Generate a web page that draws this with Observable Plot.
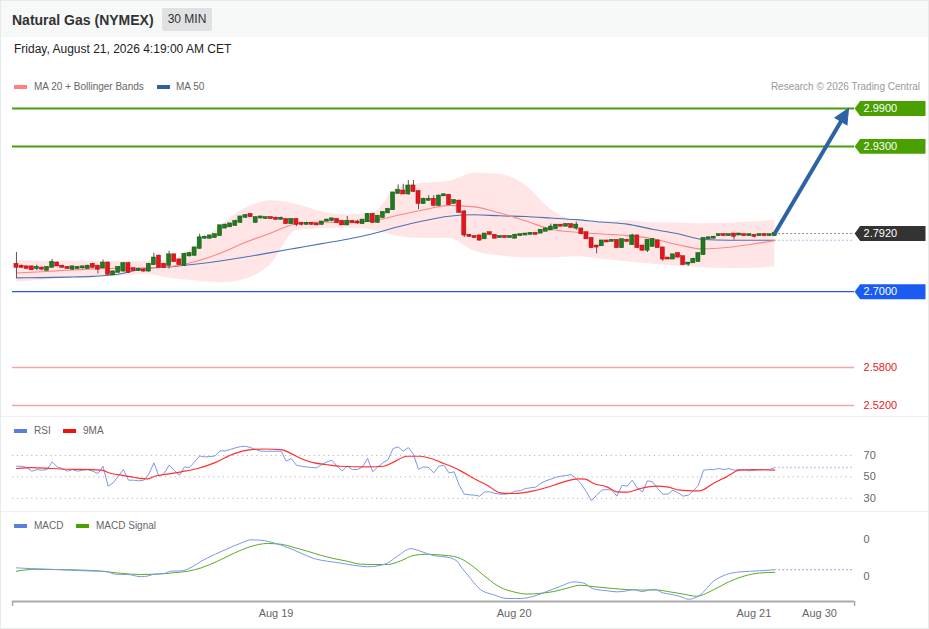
<!DOCTYPE html>
<html><head><meta charset="utf-8">
<script src="https://cdn.jsdelivr.net/npm/d3@7"></script>
<script src="https://cdn.jsdelivr.net/npm/@observablehq/plot@0.6"></script>
<style>
body{margin:0;background:#fff;font-family:"Liberation Sans",Arial,Helvetica,sans-serif;}
#wrap{position:relative;width:929px;height:629px;overflow:hidden;background:#fff;box-sizing:border-box;border:1px solid #e8eaea;}
.abs{position:absolute;white-space:nowrap;}
.leg{font-size:10px;line-height:12px;color:#666;}
.sw{height:4px;width:13px;}
.sep{left:0;width:929px;height:1px;background:#eef0f0;}
</style></head><body>
<div id="wrap">
  <div class="abs" style="left:0;top:0;width:929px;height:36px;background:#f7f8f8"></div>
  <div class="abs" style="left:11px;top:10px;font-size:14px;line-height:18px;font-weight:bold;color:#333">Natural Gas (NYMEX)</div>
  <div class="abs" style="left:161px;top:7px;width:50px;height:23px;line-height:23px;text-align:center;font-size:12px;color:#333;background:#dfe1e3;border-radius:2px">30 MIN</div>
  <div class="abs" style="left:13px;top:41px;font-size:12px;line-height:14px;color:#222">Friday, August 21, 2026 4:19:00 AM CET</div>

  <div class="abs sw" style="left:13px;top:84px;background:#ff8080"></div>
  <div class="abs leg" style="left:33px;top:80px">MA 20 + Bollinger Bands</div>
  <div class="abs sw" style="left:156px;top:84px;background:#2e5f9e"></div>
  <div class="abs leg" style="left:175px;top:80px">MA 50</div>
  <div class="abs leg" style="right:8px;top:80px;color:#9a9a9a">Research © 2026 Trading Central</div>

  <div id="main" class="abs" style="left:0;top:95px"></div>
  <div class="abs sep" style="top:415px"></div>
  <div id="rsi" class="abs" style="left:0;top:415px"></div>
  <div class="abs sep" style="top:510px"></div>
  <div id="macd" class="abs" style="left:0;top:510px"></div>
  <div id="xaxis" class="abs" style="left:0;top:595px"></div>

  <div class="abs sw" style="left:13px;top:428px;background:#5b7fe0"></div>
  <div class="abs leg" style="left:33px;top:424px">RSI</div>
  <div class="abs sw" style="left:62px;top:428px;background:#ee1111"></div>
  <div class="abs leg" style="left:82px;top:424px">9MA</div>

  <div class="abs sw" style="left:13px;top:523px;background:#5b7fe0"></div>
  <div class="abs leg" style="left:33px;top:519px">MACD</div>
  <div class="abs sw" style="left:75px;top:523px;background:#4aa000"></div>
  <div class="abs leg" style="left:95px;top:519px">MACD Signal</div>
</div>
<script>
// ---------- DATA ----------
const open = [2.743,2.740,2.739,2.739,2.737,2.737,2.734,2.739,2.745,2.740,
2.738,2.736,2.737,2.738,2.737,2.743,2.740,2.738,2.745,2.727,
2.731,2.733,2.744,2.736,2.734,2.734,2.733,2.743,2.756,2.743,
2.742,2.758,2.750,2.742,2.757,2.758,2.769,2.785,2.785,2.786,
2.789,2.801,2.803,2.805,2.810,2.818,2.822,2.810,2.817,2.816,
2.817,2.816,2.815,2.814,2.808,2.814,2.808,2.807,2.808,2.807,
2.807,2.812,2.813,2.814,2.811,2.806,2.811,2.810,2.808,2.811,
2.822,2.810,2.818,2.825,2.830,2.856,2.859,2.855,2.867,2.858,
2.840,2.845,2.846,2.837,2.852,2.852,2.840,2.843,2.826,2.789,
2.787,2.788,2.784,2.793,2.789,2.786,2.787,2.786,2.785,2.789,
2.790,2.791,2.792,2.793,2.796,2.798,2.800,2.805,2.804,2.806,
2.801,2.799,2.793,2.784,2.772,2.773,2.780,2.780,2.781,2.770,
2.781,2.775,2.788,2.772,2.766,2.772,2.780,2.769,2.753,2.752,
2.760,2.755,2.744,2.746,2.748,2.759,2.784,2.785,2.789,2.790,
2.789,2.791,2.790,2.790,2.789,2.789,2.789,2.790,2.789,2.789];
const close = [2.739,2.739,2.737,2.735,2.738,2.736,2.738,2.746,2.741,2.739,
2.737,2.739,2.738,2.739,2.740,2.739,2.736,2.745,2.728,2.731,
2.738,2.744,2.731,2.734,2.735,2.733,2.743,2.753,2.739,2.739,
2.758,2.748,2.743,2.759,2.760,2.769,2.785,2.786,2.788,2.790,
2.804,2.805,2.807,2.811,2.818,2.820,2.819,2.817,2.818,2.817,
2.816,2.815,2.816,2.808,2.814,2.807,2.807,2.808,2.807,2.806,
2.810,2.813,2.815,2.810,2.806,2.811,2.810,2.809,2.813,2.822,
2.810,2.819,2.825,2.830,2.856,2.860,2.855,2.867,2.859,2.840,
2.846,2.846,2.837,2.851,2.853,2.838,2.844,2.826,2.790,2.788,
2.786,2.782,2.791,2.791,2.785,2.787,2.786,2.787,2.789,2.790,
2.791,2.792,2.791,2.797,2.799,2.802,2.805,2.804,2.806,2.802,
2.805,2.792,2.784,2.770,2.771,2.780,2.779,2.781,2.770,2.782,
2.780,2.788,2.770,2.766,2.781,2.782,2.770,2.752,2.752,2.758,
2.755,2.743,2.745,2.751,2.760,2.784,2.785,2.786,2.790,2.789,
2.790,2.788,2.791,2.789,2.790,2.788,2.790,2.789,2.790,2.792];
const high = [2.762,2.742,2.740,2.740,2.742,2.739,2.740,2.751,2.747,2.742,
2.740,2.740,2.740,2.740,2.742,2.745,2.742,2.750,2.747,2.733,
2.740,2.746,2.746,2.737,2.737,2.736,2.745,2.761,2.758,2.745,
2.764,2.759,2.751,2.761,2.762,2.770,2.791,2.788,2.789,2.791,
2.805,2.807,2.808,2.813,2.819,2.822,2.823,2.818,2.819,2.818,
2.818,2.818,2.818,2.815,2.815,2.815,2.810,2.810,2.809,2.808,
2.811,2.815,2.816,2.815,2.813,2.819,2.812,2.813,2.814,2.824,
2.824,2.821,2.827,2.832,2.857,2.869,2.870,2.876,2.876,2.860,
2.848,2.852,2.852,2.853,2.855,2.854,2.845,2.845,2.828,2.790,
2.788,2.789,2.792,2.794,2.790,2.788,2.788,2.788,2.791,2.791,
2.792,2.793,2.793,2.798,2.801,2.807,2.806,2.806,2.808,2.807,
2.810,2.800,2.794,2.785,2.773,2.781,2.781,2.782,2.782,2.783,
2.783,2.791,2.789,2.773,2.782,2.784,2.782,2.770,2.754,2.759,
2.761,2.756,2.746,2.753,2.761,2.785,2.786,2.787,2.791,2.791,
2.791,2.792,2.792,2.791,2.791,2.790,2.791,2.791,2.791,2.793];
const low = [2.721,2.737,2.736,2.734,2.733,2.733,2.733,2.737,2.740,2.737,
2.736,2.734,2.736,2.736,2.736,2.737,2.728,2.737,2.726,2.726,
2.730,2.731,2.729,2.733,2.732,2.731,2.731,2.742,2.737,2.737,
2.736,2.747,2.742,2.740,2.755,2.756,2.767,2.783,2.783,2.785,
2.788,2.800,2.802,2.804,2.808,2.816,2.818,2.808,2.815,2.815,
2.815,2.813,2.813,2.807,2.807,2.803,2.804,2.805,2.805,2.805,
2.805,2.811,2.811,2.808,2.805,2.805,2.808,2.807,2.807,2.810,
2.808,2.808,2.816,2.824,2.829,2.854,2.854,2.853,2.857,2.830,
2.838,2.843,2.835,2.835,2.851,2.836,2.839,2.824,2.786,2.786,
2.785,2.780,2.783,2.790,2.784,2.785,2.785,2.785,2.784,2.788,
2.789,2.790,2.790,2.792,2.795,2.797,2.799,2.803,2.803,2.801,
2.797,2.790,2.783,2.769,2.760,2.772,2.778,2.779,2.769,2.769,
2.779,2.773,2.768,2.764,2.762,2.771,2.769,2.748,2.751,2.751,
2.754,2.742,2.740,2.745,2.747,2.758,2.783,2.784,2.788,2.788,
2.788,2.782,2.789,2.788,2.788,2.785,2.788,2.788,2.788,2.788];

// Bollinger / moving averages, read at every 5th candle
const bandIdx = [0,5,10,15,20,25,30,35,40,45,50,55,60,65,70,75,80,85,90,95,100,105,110,115,120,125,130,135,140,145,149];
const bbUpper = [2.7493,2.7482,2.7482,2.7482,2.7482,2.7482,2.7498,2.7703,2.8035,2.8319,2.8439,2.8384,2.8264,2.8217,2.8240,2.8652,2.8715,2.8747,2.8873,2.8857,2.8684,2.8304,2.8114,2.8098,2.8122,2.8090,2.8087,2.8075,2.8082,2.8106,2.8125];
const bbLower = [2.7150,2.7182,2.7214,2.7237,2.7245,2.7277,2.7214,2.7174,2.7142,2.7198,2.7435,2.7964,2.7996,2.8008,2.7972,2.7877,2.7841,2.7846,2.7640,2.7569,2.7534,2.7534,2.7553,2.7514,2.7474,2.7435,2.7403,2.7379,2.7367,2.7372,2.7395];
const ma20 = [2.7297,2.7316,2.7340,2.7361,2.7372,2.7377,2.7395,2.7474,2.7608,2.7782,2.7929,2.8075,2.8103,2.8090,2.8122,2.8209,2.8296,2.8367,2.8343,2.8245,2.8122,2.7988,2.7940,2.7913,2.7888,2.7838,2.7743,2.7676,2.7703,2.7758,2.7806];
const ma50 = [2.7219,2.7222,2.7230,2.7243,2.7277,2.7364,2.7392,2.7435,2.7487,2.7549,2.7619,2.7690,2.7761,2.7830,2.7917,2.8027,2.8122,2.8194,2.8217,2.8201,2.8189,2.8166,2.8141,2.8102,2.8070,2.7988,2.7917,2.7825,2.7814,2.7814,2.7814];

// key levels
const levelValues = [2.99, 2.93, 2.792, 2.70, 2.58, 2.52];
const levelRoles  = ["target","target","last","pivot","support","support"];
const targetValue = 2.99;

// RSI (one per candle) and its 9MA (read at points)
const rsi = [59.9,59.9,58.7,55.3,56.8,56.2,56.8,64.0,59.3,57.8,
55.3,56.8,55.3,56.2,56.8,55.3,53.1,59.9,41.3,44.4,
50.6,56.8,46.9,46.9,46.3,46.9,52.5,63.0,50.6,53.1,
60.9,56.2,51.6,59.3,58.7,64.0,69.5,68.6,68.9,69.5,
74.2,74.2,75.5,77.0,78.2,78.5,77.3,75.5,74.0,73.9,
73.9,73.9,73.9,64.7,67.1,60.9,59.9,59.3,58.7,58.4,
61.5,64.0,65.5,59.9,55.6,59.9,56.8,56.8,59.3,67.1,
54.7,59.3,63.0,65.9,76.4,77.9,73.9,77.3,71.1,57.1,
59.3,58.7,53.7,59.9,60.9,53.7,54.7,42.2,33.9,33.3,
32.9,32.0,36.0,36.0,34.5,33.9,33.9,34.5,36.7,37.0,
39.1,39.8,40.4,43.8,46.3,47.8,49.7,50.6,51.2,52.2,
48.4,43.2,36.0,27.7,32.9,37.6,38.2,37.6,32.0,42.2,
41.3,46.9,39.5,36.0,46.3,45.3,39.1,33.9,33.9,37.6,
35.1,32.0,32.9,37.0,42.2,56.2,56.8,56.8,57.8,56.8,
57.8,56.2,56.8,56.8,55.6,56.2,56.8,56.8,56.8,58.7];
const rsiMAIdx = [0,2.9,6.9,10.1,14.7,16.7,18.6,20.6,23.2,25.8,27.1,29.7,32.4,35.6,38.9,42.8,46.1,48.7,52,54,55.9,58.5,60.8,63.7,69,72.2,74.2,76.8,79.4,81.4,84,87.3,89.9,92.5,95.1,97.7,101.6,105.6,108.2,110.4,111.8,113.4,116,118,120,122.6,125.8,127.8,130.4,133,134.3,136.9,139.5,142.1,144.7,149];
const rsiMA = [57.8,58.7,57.8,57.1,56.8,56.2,53.1,51.6,49.4,48.1,50.6,52.5,54.7,57.8,63.0,71.7,75.4,76.0,75.4,71.7,67.1,63.0,61.5,59.9,59.3,59.9,64.0,69.2,69.2,67.1,62.4,55.6,48.4,42.2,35.1,34.5,37.0,42.2,46.3,48.1,47.8,43.8,40.7,36.0,35.7,39.1,41.3,40.7,37.6,37.0,37.0,43.8,50.0,56.2,56.8,56.2];
const rsiTicks = [30, 50, 70];

// MACD and signal (read at points)
const macdIdx = [0,2.9,6.9,10.1,13.4,16.7,18,19.3,21.9,24.5,25.8,27.1,29.1,30.4,32.4,34.3,36.3,38.9,41.5,44.1,46.1,48,50.7,53.3,55.9,58.5,61.1,63.7,66.3,69,71.6,72.9,74.8,77.5,79.4,82,84.6,86.6,87.3,88.6,91.2,93.8,96.4,99,101.6,104.2,106.9,109.5,111.4,113.4,116,118,120,121.3,122.9,125.2,127.1,129.1,131,132,133,134.3,136.9,139.5,142.1,146,149];
const macd = [0.0023,0.0021,0.0019,0.0017,0.0015,0.0014,0.0012,0.0006,0.0005,-0.0001,0.0001,0.0006,0.0008,0.0014,0.0015,0.0024,0.0041,0.0059,0.0075,0.0090,0.0099,0.0098,0.0090,0.0078,0.0063,0.0048,0.0041,0.0036,0.0030,0.0026,0.0030,0.0036,0.0054,0.0075,0.0068,0.0056,0.0052,0.0041,0.0027,0.0005,-0.0036,-0.0050,-0.0060,-0.0060,-0.0054,-0.0041,-0.0027,-0.0015,-0.0018,-0.0034,-0.0039,-0.0042,-0.0039,-0.0036,-0.0041,-0.0035,-0.0045,-0.0050,-0.0057,-0.0062,-0.0060,-0.0051,-0.0014,0.0005,0.0012,0.0015,0.0018];
const signalIdx = [0,3.6,10.1,16.7,19.9,24.5,27.8,31,33.7,36.3,39.5,42.8,46.1,49.3,52,54.6,57.2,59.8,62.4,65,67.6,70.3,72.9,75.5,78.1,80.7,84,85.9,87.3,89.2,92.5,95.1,97.7,100.3,102.9,105.6,108.2,110.8,113.4,117.3,120,122.6,125.8,128.4,131,133.7,136.3,139.5,142.8,146,149];
const signal = [0.0014,0.0019,0.0018,0.0014,0.0009,0.0005,0.0006,0.0010,0.0014,0.0023,0.0041,0.0063,0.0081,0.0089,0.0087,0.0078,0.0068,0.0057,0.0048,0.0041,0.0033,0.0032,0.0032,0.0042,0.0057,0.0060,0.0057,0.0054,0.0048,0.0032,-0.0005,-0.0030,-0.0042,-0.0048,-0.0046,-0.0041,-0.0032,-0.0024,-0.0028,-0.0033,-0.0036,-0.0037,-0.0037,-0.0042,-0.0048,-0.0054,-0.0041,-0.0018,0.0,0.0009,0.0011];
const macdTicks = [0, 0.01];

// time axis (candle index of each label)
const tickPos = [51, 97.8, 144.9, 157.8];
const tickLabels = ["Aug 19", "Aug 20", "Aug 21", "Aug 30"];
const arrowEndIdx = 163.5;

// ---------- BUILD ----------
const N = open.length;
const lastIdx = N - 1;
const xDomain = [-0.78, 164.7];
const xMax = xDomain[1];
const W = 929, ML = 11, MR = 74;
const MAIN_H = 320, MAIN_MT = 12, MAIN_MB = 10.4;
const priceDomain = [2.52, 2.99];
const candles = d3.range(N).map(i => ({i, o: open[i], h: high[i], l: low[i], c: close[i]}));
const bands = bandIdx.map((i, k) => ({i, hi: bbUpper[k], lo: bbLower[k], ma20: ma20[k], ma50: ma50[k]}));
const levels = levelValues.map((v, k) => ({v, role: levelRoles[k]}));
const roleStyle = {
  target:  {line: "#4b9e0a", w: 2,   tag: "#4aa000", text: "#ffffff"},
  last:    {line: null,      w: 0,   tag: "#333333", text: "#ffffff"},
  pivot:   {line: "#1f5fe6", w: 1.2, tag: "#1a5cf2", text: "#ffffff"},
  support: {line: "#f6a3a3", w: 1.5, tag: null,      text: "#e8191e"}
};
const tagSymbol = {draw(ctx) {
  ctx.moveTo(-35.5, 0); ctx.lineTo(-30, -7.5); ctx.lineTo(35.5, -7.5);
  ctx.lineTo(35.5, 7.5); ctx.lineTo(-30, 7.5); ctx.closePath();
}};
// arrowhead whose tip sits at the anchor point, pointing up (rotated below)
const headSymbol = {draw(ctx) {
  ctx.moveTo(0, 0); ctx.lineTo(-7, 15); ctx.lineTo(7, 15); ctx.closePath();
}};
const font = "'Liberation Sans', Arial, Helvetica, sans-serif";
const base = {width: W, marginLeft: ML, marginRight: MR};
const lastClose = close[lastIdx];

// direction of the forecast arrow in screen space (from the scales' pixel ratios)
const kx = (W - ML - MR) / (xDomain[1] - xDomain[0]);
const ky = (MAIN_H - MAIN_MT - MAIN_MB) / (priceDomain[1] - priceDomain[0]);
const adx = (arrowEndIdx - lastIdx) * kx, ady = (targetValue - lastClose) * ky;
const arrowAngle = Math.atan2(adx, ady) * 180 / Math.PI;
const shaftT = 1 - 11 / Math.hypot(adx, ady);
const arrowShaft = [{x1: lastIdx, y1: lastClose,
  x2: lastIdx + (arrowEndIdx - lastIdx) * shaftT, y2: lastClose + (targetValue - lastClose) * shaftT}];

const main = Plot.plot({
  ...base, height: MAIN_H, marginTop: MAIN_MT, marginBottom: MAIN_MB,
  x: {domain: xDomain, axis: null},
  y: {domain: priceDomain, axis: null},
  color: {type: "identity"},
  style: {background: "transparent", fontFamily: font, fontSize: "11px", overflow: "visible"},
  marks: [
    Plot.areaY(bands, {x: "i", y1: "lo", y2: "hi", fill: "#ff0000", fillOpacity: 0.1, curve: "monotone-x"}),
    Plot.ruleY(levels.filter(d => roleStyle[d.role].line), {y: "v", stroke: d => roleStyle[d.role].line, strokeWidth: d => roleStyle[d.role].w}),
    Plot.line(bands, {x: "i", y: "ma50", stroke: "#4a72b5", strokeWidth: 1.1, curve: "monotone-x"}),
    Plot.line(bands, {x: "i", y: "ma20", stroke: "#ff8585", strokeWidth: 1.1, curve: "monotone-x"}),
    Plot.ruleY([ma50[ma50.length - 1]], {x1: () => lastIdx, x2: () => xMax, stroke: "#a9bbe4", strokeWidth: 1.2, strokeDasharray: "2,2"}),
    Plot.ruleY([lastClose], {x1: () => lastIdx, x2: () => xMax, stroke: "#888", strokeWidth: 1, strokeDasharray: "2,2"}),
    Plot.ruleX(candles, {x: "i", y1: "l", y2: "h", stroke: "#555", strokeWidth: 1}),
    Plot.rect(candles, {x1: d => d.i - 0.4, x2: d => d.i + 0.4, y1: "o", y2: "c", insetTop: -0.7, insetBottom: -0.7,
      fill: d => d.c >= d.o ? "#1e7b1e" : "#e8141b", stroke: d => d.c >= d.o ? "#135213" : "#a30d0d", strokeWidth: 0.5}),
    Plot.link(arrowShaft, {x1: "x1", y1: "y1", x2: "x2", y2: "y2", stroke: "#2d63a6", strokeWidth: 4}),
    Plot.dot([{x: arrowEndIdx, y: targetValue}], {x: "x", y: "y", symbol: headSymbol, r: 6, rotate: arrowAngle,
      fill: "#2d63a6", stroke: "#2d63a6", strokeWidth: 1, strokeLinejoin: "miter"}),
    Plot.dot(levels.filter(d => roleStyle[d.role].tag), {x: () => xMax, y: "v", symbol: tagSymbol, r: 8, dx: 35.5,
      fill: d => roleStyle[d.role].tag, stroke: "none"}),
    Plot.text(levels, {x: () => xMax, y: "v", text: d => d.v.toFixed(4), dx: 9, textAnchor: "start",
      fill: d => roleStyle[d.role].text, fontSize: 11})
  ]
});
document.getElementById("main").appendChild(main);

const rsiData = rsi.map((v, i) => ({i, v}));
const rsiMAData = rsiMAIdx.map((i, k) => ({i, v: rsiMA[k]}));
const rsiPlot = Plot.plot({
  ...base, height: 95, marginTop: 0, marginBottom: 0,
  x: {domain: xDomain, axis: null},
  y: {domain: [30, 70], range: [82, 39], axis: "right", ticks: rsiTicks, tickSize: 0, tickPadding: 9, label: null},
  style: {background: "transparent", fontFamily: font, fontSize: "11px", color: "#666", overflow: "visible"},
  marks: [
    Plot.ruleY(rsiTicks, {stroke: "#b5b5b5", strokeDasharray: "1.2,3.6"}),
    Plot.line(rsiData, {x: "i", y: "v", stroke: "#7b96ea", strokeWidth: 1}),
    Plot.line(rsiMAData, {x: "i", y: "v", stroke: "#ff3030", strokeWidth: 1.2, curve: "monotone-x"}),
    Plot.ruleY([rsi[lastIdx]], {x1: () => lastIdx, x2: () => xMax, stroke: "#c3cff2", strokeWidth: 1.5, strokeDasharray: "2,2"})
  ]
});
document.getElementById("rsi").appendChild(rsiPlot);

const macdData = macdIdx.map((i, k) => ({i, v: macd[k]}));
const sigData = signalIdx.map((i, k) => ({i, v: signal[k]}));
const macdPlot = Plot.plot({
  ...base, height: 85, marginTop: 0, marginBottom: 0,
  x: {domain: xDomain, axis: null},
  y: {domain: [0, 0.01], range: [65, 28], axis: "right", ticks: macdTicks, tickFormat: d3.format(".0f"), tickSize: 0, tickPadding: 9, label: null},
  style: {background: "transparent", fontFamily: font, fontSize: "11px", color: "#666", overflow: "visible"},
  marks: [
    Plot.line(sigData, {x: "i", y: "v", stroke: "#5aaa22", strokeWidth: 1, curve: "monotone-x"}),
    Plot.line(macdData, {x: "i", y: "v", stroke: "#7b96ea", strokeWidth: 1, curve: "monotone-x"}),
    Plot.ruleY([macd[macd.length - 1]], {x1: () => lastIdx, x2: () => xMax, stroke: "#a9bbf0", strokeWidth: 1.2, strokeDasharray: "2,2"})
  ]
});
document.getElementById("macd").appendChild(macdPlot);

const tickMap = new Map(tickPos.map((p, k) => [p, tickLabels[k]]));
const axisPlot = Plot.plot({
  ...base, height: 34, marginTop: 0, marginBottom: 29,
  x: {domain: xDomain, ticks: tickPos, tickFormat: d => tickMap.get(d), tickSize: 0, tickPadding: 8, label: null},
  y: {domain: [0, 1], range: [5, 0], axis: null},
  style: {background: "transparent", fontFamily: font, fontSize: "11px", color: "#666", overflow: "visible"},
  marks: [
    Plot.ruleY([0], {stroke: "#aaa", strokeWidth: 2}),
    Plot.ruleX(xDomain, {y1: 0, y2: -1, stroke: "#aaa", strokeWidth: 1.5})
  ]
});
document.getElementById("xaxis").appendChild(axisPlot);
</script>
</body></html>
